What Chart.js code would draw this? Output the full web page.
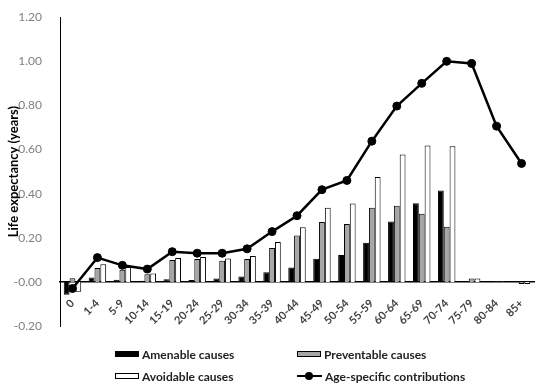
<!DOCTYPE html>
<html>
<head>
<meta charset="utf-8">
<script src="https://cdn.jsdelivr.net/npm/chart.js@4.4.0/dist/chart.umd.min.js"></script>
<style>
  html, body { margin: 0; padding: 0; background: #fff; }
  #wrap { position: relative; width: 550px; height: 392px; }
  #legend {
    position: absolute; left: 115px; top: 346px;
    display: grid; grid-template-columns: 182px 220px; row-gap: 6px;
    font: bold 12px Lato, sans-serif; color: #222;
  }
  .item { display: flex; align-items: center; height: 16px; }
  .swatch { width: 24px; height: 6px; border: 1px solid #000; margin-right: 3px; box-sizing: border-box; }
  .line { position: relative; width: 25px; height: 2px; background: #000; margin-right: 3px; }
  .line::after { content: ''; position: absolute; left: 8px; top: -3px; width: 8px; height: 8px; border-radius: 50%; background: #000; }
</style>
</head>
<body>
<div id="wrap">
  <canvas id="chart" width="550" height="392"></canvas>
  <div id="legend">
    <div class="item"><span class="swatch" style="background:#000"></span>Amenable causes</div>
    <div class="item"><span class="swatch" style="background:#a6a6a6"></span>Preventable causes</div>
    <div class="item"><span class="swatch" style="background:#fff"></span>Avoidable causes</div>
    <div class="item"><span class="line"></span>Age-specific contributions</div>
  </div>
</div>
<script>
const ageGroups = ['0', '1-4', '5-9', '10-14', '15-19', '20-24', '25-29', '30-34', '35-39', '40-44',
  '45-49', '50-54', '55-59', '60-64', '65-69', '70-74', '75-79', '80-84', '85+'];

const amenable = [-0.058, 0.02, 0.01, 0.005, 0.012, 0.008, 0.015, 0.024, 0.044, 0.065,
  0.105, 0.122, 0.177, 0.274, 0.357, 0.414, 0.001, 0.003, 0.0];
const preventable = [0.017, 0.063, 0.055, 0.035, 0.099, 0.104, 0.096, 0.104, 0.154, 0.21,
  0.272, 0.263, 0.336, 0.345, 0.309, 0.25, 0.015, 0.002, -0.01];
const avoidable = [-0.045, 0.08, 0.067, 0.038, 0.108, 0.113, 0.106, 0.117, 0.181, 0.248,
  0.336, 0.355, 0.476, 0.578, 0.618, 0.615, 0.015, 0.002, -0.01];
const ageSpecific = [-0.03, 0.11, 0.075, 0.058, 0.137, 0.13, 0.13, 0.15, 0.228, 0.30,
  0.418, 0.46, 0.638, 0.797, 0.90, 1.00, 0.99, 0.706, 0.537];

const ctx = document.getElementById('chart').getContext('2d');

new Chart(ctx, {
  data: {
    labels: ageGroups,
    datasets: [
      {
        type: 'line',
        label: 'Age-specific contributions',
        data: ageSpecific,
        borderColor: '#000',
        backgroundColor: '#000',
        borderWidth: 2.5,
        pointRadius: 4,
        pointBorderWidth: 1,
        pointBackgroundColor: '#000',
        tension: 0,
        order: 0
      },
      {
        type: 'bar',
        label: 'Amenable causes',
        data: amenable,
        backgroundColor: '#000',
        borderColor: '#000',
        borderWidth: 1,
        categoryPercentage: 0.7,
        barPercentage: 1.0,
        order: 1
      },
      {
        type: 'bar',
        label: 'Preventable causes',
        data: preventable,
        backgroundColor: '#a6a6a6',
        borderColor: '#000',
        borderWidth: 1,
        categoryPercentage: 0.7,
        barPercentage: 1.0,
        order: 1
      },
      {
        type: 'bar',
        label: 'Avoidable causes',
        data: avoidable,
        backgroundColor: '#fff',
        borderColor: '#000',
        borderWidth: 1,
        categoryPercentage: 0.7,
        barPercentage: 1.0,
        order: 1
      }
    ]
  },
  options: {
    responsive: false,
    animation: false,
    layout: { padding: { left: 6, right: 16, top: 15, bottom: 66 } },
    plugins: {
      legend: { display: false },
      tooltip: { enabled: false }
    },
    scales: {
      x: {
        position: { y: 0 },
        grid: { display: false },
        border: { display: true, color: '#000', width: 1.5 },
        ticks: {
          minRotation: 45,
          maxRotation: 45,
          padding: 7,
          color: '#404040',
          font: { family: 'Lato', size: 11, weight: 'bold' }
        }
      },
      y: {
        min: -0.2,
        max: 1.2,
        afterFit: (scale) => { scale.width = 54; },
        grid: { display: false },
        border: { display: true, color: '#000', width: 1 },
        ticks: {
          stepSize: 0.2,
          padding: 10,
          color: '#808080',
          font: { family: 'Lato', size: 12 },
          callback: (v) => v.toFixed(2)
        },
        title: {
          display: true,
          text: 'Life expectancy (years)',
          color: '#000',
          font: { family: 'Lato', size: 13, weight: 'bold' },
          padding: { top: 0, bottom: 2 }
        }
      }
    }
  }
});
</script>
</body>
</html>
